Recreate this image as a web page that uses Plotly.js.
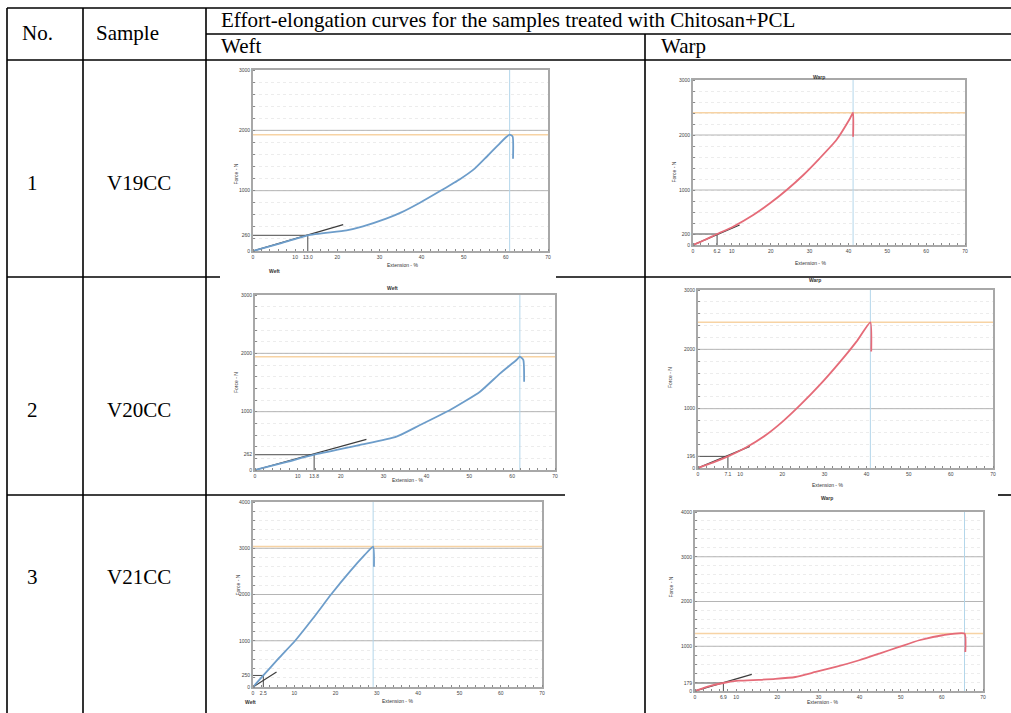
<!DOCTYPE html>
<html><head><meta charset="utf-8">
<script src="https://cdn.plot.ly/plotly-3.0.1.min.js"></script>
<style>html,body{margin:0;padding:0;background:#fff}#chart{width:1011px;height:713px}</style>
</head><body><div id="chart"></div>
<script>
// ---------------- data ----------------
const rowNumbers = ["1", "2", "3"];
const samples = ["V19CC", "V20CC", "V21CC"];
const directions = ["Weft", "Warp"];
const tableTitle = "Effort-elongation curves for the samples treated with Chitosan+PCL";
const headNo = "No.";
const headSample = "Sample";

// extension (%) and force (N)
const v19WeftExt   = [0, 6.3, 13.0, 22.2, 26.1, 31.6, 35.2, 39.6, 44.7, 49.1, 52.6, 55.4, 58.1, 60.1, 60.9, 61.6, 61.7];
const v19WeftForce = [0, 122, 260, 343, 409, 536, 640, 800, 1006, 1190, 1365, 1558, 1751, 1890, 1928, 1900, 1530];
const v19WarpExt   = [0, 3.0, 6.2, 10.3, 15.5, 19.8, 24.1, 28.4, 32.6, 36.9, 40.4, 41.2, 41.2];
const v19WarpForce = [0, 90, 200, 333, 545, 758, 1000, 1273, 1576, 1909, 2300, 2406, 1970];
const v20WeftExt   = [0, 7.0, 13.8, 24.5, 33.0, 38.5, 45.5, 52.5, 57.2, 61.0, 61.8, 62.6, 62.8];
const v20WeftForce = [0, 130, 262, 429, 571, 771, 1029, 1343, 1657, 1886, 1943, 1886, 1514];
const v20WarpExt   = [0, 3.5, 7.1, 11.5, 16.2, 20.2, 24.1, 28.9, 33.6, 37.6, 40.9, 41.1];
const v20WarpForce = [0, 90, 196, 350, 560, 790, 1050, 1400, 1780, 2130, 2456, 1963];
const v21WeftExt   = [0, 2.5, 6.2, 10.2, 14.5, 18.9, 23.5, 27.0, 29.1, 29.3];
const v21WeftForce = [0, 250, 620, 1000, 1480, 2000, 2500, 2850, 3036, 2600];
const v21WarpExt   = [0, 3.5, 6.9, 10.6, 15.5, 19.5, 24.4, 29.3, 34.2, 39.9, 44.8, 49.6, 54.5, 60.2, 65.5, 65.7];
const v21WarpForce = [0, 110, 179, 230, 250, 270, 313, 425, 537, 687, 836, 985, 1134, 1246, 1284, 873];

// reference marks on each chart (order: V19 weft, V19 warp, V20 weft, V20 warp, V21 weft, V21 warp)
const markerExt    = [13.0, 6.2, 13.8, 7.1, 2.5, 6.9];
const markerForce  = [260, 200, 262, 196, 250, 179];
const tangentExt   = [21.4, 12.0, 26.0, 12.3, 5.7, 13.8];
const tangentForce = [436, 364, 526, 365, 324, 373];
const forceMax     = [3000, 3000, 3000, 3000, 4000, 4000];
const extMax = 70;
const xTickVals = [0, 10, 20, 30, 40, 50, 60, 70];
const xTickText = ["0", "10", "20", "30", "40", "50", "60", "70"];
const xTitle = "Extension - %";
const yTitle = "Force - N";

// ---------------- layout helpers ----------------
const W = 1011, H = 713;
const fx = x => x / W, fy = y => 1 - y / H;

const curves = [
  {ext: v19WeftExt, force: v19WeftForce, dir: 0},
  {ext: v19WarpExt, force: v19WarpForce, dir: 1},
  {ext: v20WeftExt, force: v20WeftForce, dir: 0},
  {ext: v20WarpExt, force: v20WarpForce, dir: 1},
  {ext: v21WeftExt, force: v21WeftForce, dir: 0},
  {ext: v21WarpExt, force: v21WarpForce, dir: 1}
];
// pixel frames of each small chart [left, right, top, bottom]
const frames = [[253, 548, 70, 251], [693, 965, 80, 245], [255, 555, 295, 470],
                [698, 993, 290, 468], [253, 542, 502, 687], [695, 983, 512, 691]];
// pixel anchor points for little chart labels
const chartTitles = [null, [827, 72, "Warp"], [392, 288, "Weft"], [823, 280, "Warp"], null, [835, 503, "Warp"]];
const extraLabels = [[267, 271, "Weft"], [243, 707, "Weft"]];
const yTitlePos = [[230, 162], [673, 160], [231, 383], [670, 378], [232, 598], [670, 600]];
const xTitlePos = [[402, 265], [828, 263], [407, 485], [845, 490], [397, 706], [840, 707]];

const curveColor = ["#6d9dca", "#e56b78"];
const smallFont = {family: "Liberation Sans, Arial", size: 5, color: "#444"};

const traces = [];
const layout = {
  width: W, height: H, margin: {l: 0, r: 0, t: 0, b: 0},
  paper_bgcolor: "#fff", plot_bgcolor: "#fff", showlegend: false,
  shapes: [], annotations: []
};

curves.forEach((c, i) => {
  const n = i + 1;
  const xa = n === 1 ? "x" : "x" + n, ya = n === 1 ? "y" : "y" + n;
  const xk = n === 1 ? "xaxis" : "xaxis" + n, yk = n === 1 ? "yaxis" : "yaxis" + n;
  const [l, r, t, b] = frames[i];
  const peak = Math.max(...c.force);
  const breakExt = c.ext[c.force.indexOf(peak)];

  // major gridlines at thousands
  for (let v = 1000; v < forceMax[i]; v += 1000) {
    traces.push({x: [0, extMax], y: [v, v], xaxis: xa, yaxis: ya, mode: "lines",
      line: {color: "#b5b5b5", width: 1}, hoverinfo: "skip"});
  }
  // peak force line (orange)
  traces.push({x: [0, extMax], y: [peak, peak], xaxis: xa, yaxis: ya, mode: "lines",
    line: {color: "#f7d3a4", width: 1.5}, hoverinfo: "skip"});
  // break extension line (light blue)
  traces.push({x: [breakExt, breakExt], y: [0, forceMax[i]], xaxis: xa, yaxis: ya, mode: "lines",
    line: {color: "#b3d6ea", width: 1}, hoverinfo: "skip"});
  // marker lines
  traces.push({x: [0, markerExt[i], markerExt[i]], y: [markerForce[i], markerForce[i], 0], xaxis: xa, yaxis: ya,
    mode: "lines", line: {color: "#4a4a4a", width: 1}, hoverinfo: "skip"});
  // tangent line
  traces.push({x: [0, tangentExt[i]], y: [0, tangentForce[i]], xaxis: xa, yaxis: ya, mode: "lines",
    line: {color: "#3c3c3c", width: 1.2}, hoverinfo: "skip"});
  // curve
  traces.push({x: c.ext, y: c.force, xaxis: xa, yaxis: ya, mode: "lines",
    line: {color: curveColor[c.dir], width: 1.8, shape: "spline", smoothing: 0.5}, hoverinfo: "skip"});

  const yvals = [0, markerForce[i]];
  for (let v = 1000; v <= forceMax[i]; v += 1000) yvals.push(v);
  const xvals = [0, markerExt[i]].concat(xTickVals.slice(1));
  const xtext = ["0", markerExt[i].toFixed(1)].concat(xTickText.slice(1));

  layout[xk] = {domain: [fx(l), fx(r)], range: [0, extMax], anchor: ya, showline: true, mirror: true,
    linecolor: "#a8a8a8", linewidth: 2, showgrid: false, zeroline: false, ticks: "",
    tickvals: xvals, ticktext: xtext, tickfont: smallFont, tickangle: 0, fixedrange: true,
    minor: {dtick: 2, ticks: "inside", ticklen: 2, tickcolor: "#8a8a8a", showgrid: false}};
  layout[yk] = {domain: [fy(b), fy(t)], range: [0, forceMax[i]], anchor: xa, showline: true, mirror: true,
    linecolor: "#a8a8a8", linewidth: 2, showgrid: false, zeroline: false, ticks: "",
    tickvals: yvals, ticktext: yvals.map(v => String(Math.round(v))), tickfont: smallFont, fixedrange: true,
    minor: {dtick: 200, ticks: "inside", ticklen: 2, tickcolor: "#8a8a8a", showgrid: true,
            gridcolor: "#ececec", griddash: "dot", gridwidth: 1}};

  layout.annotations.push({xref: "paper", yref: "paper", x: fx(yTitlePos[i][0]), y: fy(yTitlePos[i][1]),
    text: yTitle, textangle: -90, showarrow: false, font: {family: "Liberation Sans, Arial", size: 5, color: "#333"}});
  layout.annotations.push({xref: "paper", yref: "paper", x: fx(xTitlePos[i][0]), y: fy(xTitlePos[i][1]),
    text: xTitle, showarrow: false, font: {family: "Liberation Sans, Arial", size: 5, color: "#333"}});
  if (chartTitles[i]) {
    layout.annotations.push({xref: "paper", yref: "paper", x: fx(chartTitles[i][0]), y: fy(chartTitles[i][1]),
      text: "<b>" + chartTitles[i][2] + "</b>", showarrow: false, font: {family: "Liberation Sans, Arial", size: 5, color: "#333"}});
  }
});
extraLabels.forEach(p => layout.annotations.push({xref: "paper", yref: "paper", x: fx(p[0]), y: fy(p[1]),
  text: "<b>" + p[2] + "</b>", showarrow: false, font: {family: "Liberation Sans, Arial", size: 5, color: "#333"}}));

// ---------------- table grid ----------------
const blk = {color: "#000", width: 1.6};
const hLines = [[8, 7, 1011], [34, 206, 1011], [60, 7, 1011], [277, 7, 220], [277, 556, 1011], [495, 7, 565], [495, 998, 1011]];
const vLines = [[7, 8, 713], [83, 8, 713], [206, 8, 713], [645, 34, 713]];
hLines.forEach(h => layout.shapes.push({type: "line", xref: "paper", yref: "paper",
  x0: fx(h[1]), x1: fx(h[2]), y0: fy(h[0]), y1: fy(h[0]), line: blk}));
vLines.forEach(v => layout.shapes.push({type: "line", xref: "paper", yref: "paper",
  x0: fx(v[0]), x1: fx(v[0]), y0: fy(v[1]), y1: fy(v[2]), line: blk}));

const serif = {family: "Liberation Serif, Times New Roman, serif", size: 21, color: "#000"};
function txt(x, y, s, anchor) {
  layout.annotations.push({xref: "paper", yref: "paper", x: fx(x), y: fy(y), text: s, showarrow: false,
    xanchor: anchor || "center", yanchor: "middle", font: serif});
}
txt(37, 33, headNo);
txt(127, 33, headSample);
txt(219, 20, tableTitle, "left");
txt(219, 46, directions[0], "left");
txt(659, 46, directions[1], "left");
const rowY = [183, 410, 577];
rowY.forEach((y, k) => { txt(25, y, rowNumbers[k], "left"); txt(105, y, samples[k], "left"); });

Plotly.newPlot("chart", traces, layout, {staticPlot: true, displayModeBar: false});
</script>
</body></html>
